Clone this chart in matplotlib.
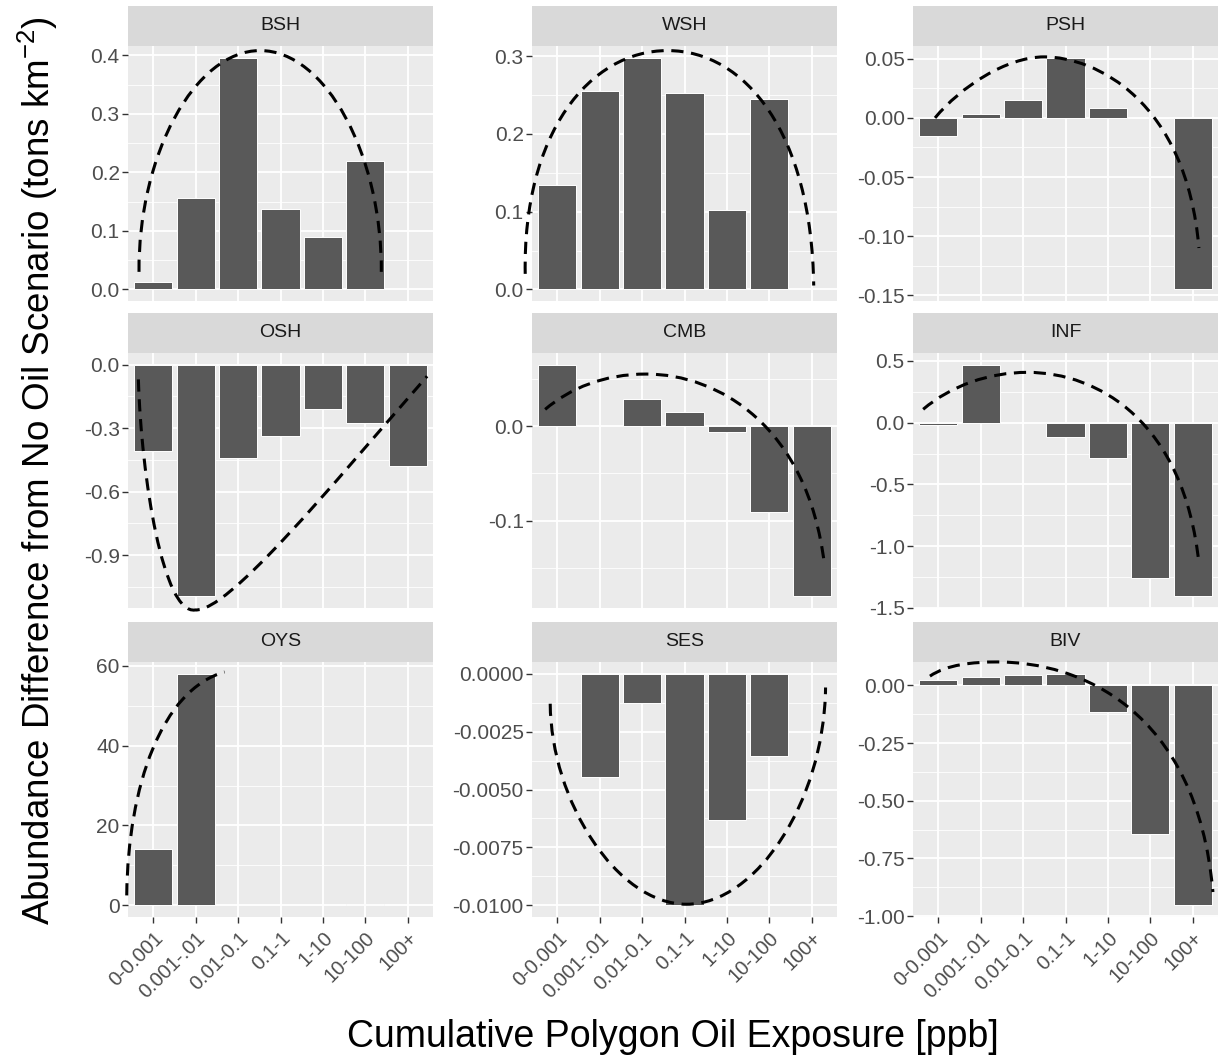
import matplotlib.pyplot as plt
import numpy as np
from matplotlib.patches import PathPatch, Rectangle
from matplotlib.path import Path

plt.rcParams["font.family"] = ["Liberation Sans", "DejaVu Sans"]
plt.rcParams["mathtext.fontset"] = "custom"
plt.rcParams["mathtext.rm"] = "Liberation Sans"
plt.rcParams["mathtext.it"] = "Liberation Sans"
plt.rcParams["axes.unicode_minus"] = False

nan = np.nan

categories = ["0-0.001", "0.001-.01", "0.01-0.1", "0.1-1", "1-10", "10-100", "100+"]
groups = ["BSH", "WSH", "PSH", "OSH", "CMB", "INF", "OYS", "SES", "BIV"]

# abundance difference per exposure class (NaN = no bar)
bsh = [0.012, 0.156, 0.396, 0.137, 0.089, 0.219, nan]
wsh = [0.134, 0.255, 0.298, 0.253, 0.102, 0.245, nan]
psh = [-0.015, 0.003, 0.015, 0.051, 0.008, 0.0, -0.145]
osh = [-0.408, -1.095, -0.44, -0.336, -0.211, -0.274, -0.478]
cmb = [0.065, nan, 0.029, 0.015, -0.0064, -0.0904, -0.1798]
inf = [-0.02, 0.47, nan, -0.114, -0.29, -1.254, -1.403]
oys = [14.1, 58.0, nan, nan, nan, 0.25, nan]
ses = [nan, -0.00446, -0.00125, -0.0100, -0.0063, -0.00354, nan]
biv = [0.022, 0.036, 0.044, 0.051, -0.115, -0.646, -0.954]

# y ticks and label formats per panel
bsh_ticks, bsh_fmt = [0.0, 0.1, 0.2, 0.3, 0.4], "%.1f"
wsh_ticks, wsh_fmt = [0.0, 0.1, 0.2, 0.3], "%.1f"
psh_ticks, psh_fmt = [-0.15, -0.10, -0.05, 0.0, 0.05], "%.2f"
osh_ticks, osh_fmt = [-0.9, -0.6, -0.3, 0.0], "%.1f"
cmb_ticks, cmb_fmt = [-0.1, 0.0], "%.1f"
inf_ticks, inf_fmt = [-1.5, -1.0, -0.5, 0.0, 0.5], "%.1f"
oys_ticks, oys_fmt = [0, 20, 40, 60], "%d"
ses_ticks, ses_fmt = [-0.01, -0.0075, -0.005, -0.0025, 0.0], "%.4f"
biv_ticks, biv_fmt = [-1.0, -0.75, -0.5, -0.25, 0.0], "%.2f"

# hand-drawn dashed trend sketches, as cubic Bezier control points (data units)
bsh_curve = [(0.66, 0.03), (0.64, 0.23), (1.98, 0.408), (3.52, 0.408),
             (5.06, 0.408), (6.40, 0.23), (6.38, 0.03)]
wsh_curve = [(0.24, 0.02), (0.18, 0.20), (1.75, 0.307), (3.6, 0.307),
             (5.45, 0.307), (7.0, 0.20), (7.05, 0.005)]
psh_curve = [(0.92, 0.0), (1.52, 0.026), (2.6, 0.0516), (3.5, 0.0516),
             (4.7, 0.0516), (6.85, 0.015), (7.15, -0.11)]
osh_curve = [(0.645, -0.070), (0.716, -0.540), (1.236, -1.182), (1.986, -1.159),
             (2.773, -1.168), (5.137, -0.587), (7.461, -0.055)]
cmb_curve = [(0.71, 0.0177), (1.3, 0.04), (2.1, 0.055), (3.1, 0.055),
             (4.8, 0.055), (6.9, 0.0), (7.3, -0.145)]
inf_curve = [(0.64, 0.108), (1.3, 0.30), (2.2, 0.407), (3.1, 0.407),
             (4.8, 0.407), (6.8, 0.0), (7.15, -1.14)]
oys_curve = [(0.37, 2.5), (0.4, 30.0), (1.2, 54.0), (2.68, 58.4)]
ses_curve = [(0.83, -0.0013), (0.85, -0.0055), (2.4, -0.00995), (4.05, -0.00995),
             (5.7, -0.00995), (7.3, -0.0055), (7.33, -0.0006)]
biv_curve = [(0.8, 0.04), (1.2, 0.09), (1.8, 0.1015), (2.4, 0.1015),
             (4.3, 0.1015), (7.1, -0.1), (7.48, -0.896)]

values = [bsh, wsh, psh, osh, cmb, inf, oys, ses, biv]
ticks = [bsh_ticks, wsh_ticks, psh_ticks, osh_ticks, cmb_ticks, inf_ticks,
         oys_ticks, ses_ticks, biv_ticks]
fmts = [bsh_fmt, wsh_fmt, psh_fmt, osh_fmt, cmb_fmt, inf_fmt, oys_fmt, ses_fmt, biv_fmt]
curves = [bsh_curve, wsh_curve, psh_curve, osh_curve, cmb_curve, inf_curve,
          oys_curve, ses_curve, biv_curve]

W, H = 1221, 1057
COL_LEFT = [128, 532, 913]
ROW_TOP = [46, 353, 662]
PANEL_W, PANEL_H, STRIP_H = 305, 255, 40

fig = plt.figure(figsize=(W / 100, H / 100), dpi=100)

x = np.arange(1, len(categories) + 1)

for i, name in enumerate(groups):
    r, c = divmod(i, 3)
    ax = fig.add_axes([COL_LEFT[c] / W, 1 - (ROW_TOP[r] + PANEL_H) / H,
                       PANEL_W / W, PANEL_H / H])
    ax.set_facecolor("#EBEBEB")
    for s in ax.spines.values():
        s.set_visible(False)

    vals = np.array(values[i], dtype=float)
    ok = ~np.isnan(vals)
    ax.bar(x[ok], vals[ok], width=0.9, color="#595959", edgecolor="white",
           linewidth=0.7, zorder=3)

    # ggplot-like 5% expansion including the bar baseline
    lo = min(0.0, np.nanmin(vals))
    hi = max(0.0, np.nanmax(vals))
    pad = 0.05 * (hi - lo)
    ax.set_ylim(lo - pad, hi + pad)
    ax.set_xlim(0.4, len(categories) + 0.6)

    tk = ticks[i]
    ax.set_yticks(tk)
    ax.set_yticklabels([fmts[i] % t for t in tk])
    step = tk[1] - tk[0]
    minor = np.arange(tk[0] - step / 2, tk[-1] + step, step)
    minor = minor[(minor > lo - pad) & (minor < hi + pad)]
    ax.set_yticks(minor, minor=True)
    ax.grid(True, which="major", color="white", lw=1.3, zorder=0)
    ax.grid(True, which="minor", axis="y", color="white", lw=0.6, zorder=0)
    ax.set_axisbelow(True)
    ax.tick_params(axis="y", which="major", length=4, width=1, color="#333333",
                   labelsize=15, labelcolor="#4D4D4D", pad=2)
    ax.tick_params(which="minor", length=0)

    ax.set_xticks(x)
    if r == 2:
        ax.set_xticklabels(categories, rotation=45, ha="right", va="top",
                           rotation_mode="anchor")
        ax.tick_params(axis="x", length=4, width=1, color="#333333",
                       labelsize=14.5, labelcolor="#4D4D4D", pad=4)
    else:
        ax.set_xticklabels([])
        ax.tick_params(axis="x", length=0)

    # facet strip
    sh = STRIP_H / PANEL_H
    ax.add_patch(Rectangle((0, 1), 1, sh, transform=ax.transAxes,
                           facecolor="#D9D9D9", edgecolor="none", clip_on=False))
    ax.text(0.5, 1 + sh / 2, name, transform=ax.transAxes, ha="center",
            va="center", fontsize=14, color="#1A1A1A")

    # dashed sketch
    pts = curves[i]
    codes = [Path.MOVETO] + [Path.CURVE4] * (len(pts) - 1)
    ax.add_patch(PathPatch(Path(pts, codes), fill=False, edgecolor="black",
                           lw=2.2, linestyle=(0, (4, 2.5)), clip_on=False,
                           zorder=5))

fig.text(0.031, 0.555,
         "Abundance Difference from No Oil Scenario (tons km$^{-2}$)",
         rotation=90, ha="center", va="center", fontsize=26.5)
fig.text(0.551, 0.019, "Cumulative Polygon Oil Exposure [ppb]",
         ha="center", va="center", fontsize=27)

fig.savefig("out.png", dpi=100)
